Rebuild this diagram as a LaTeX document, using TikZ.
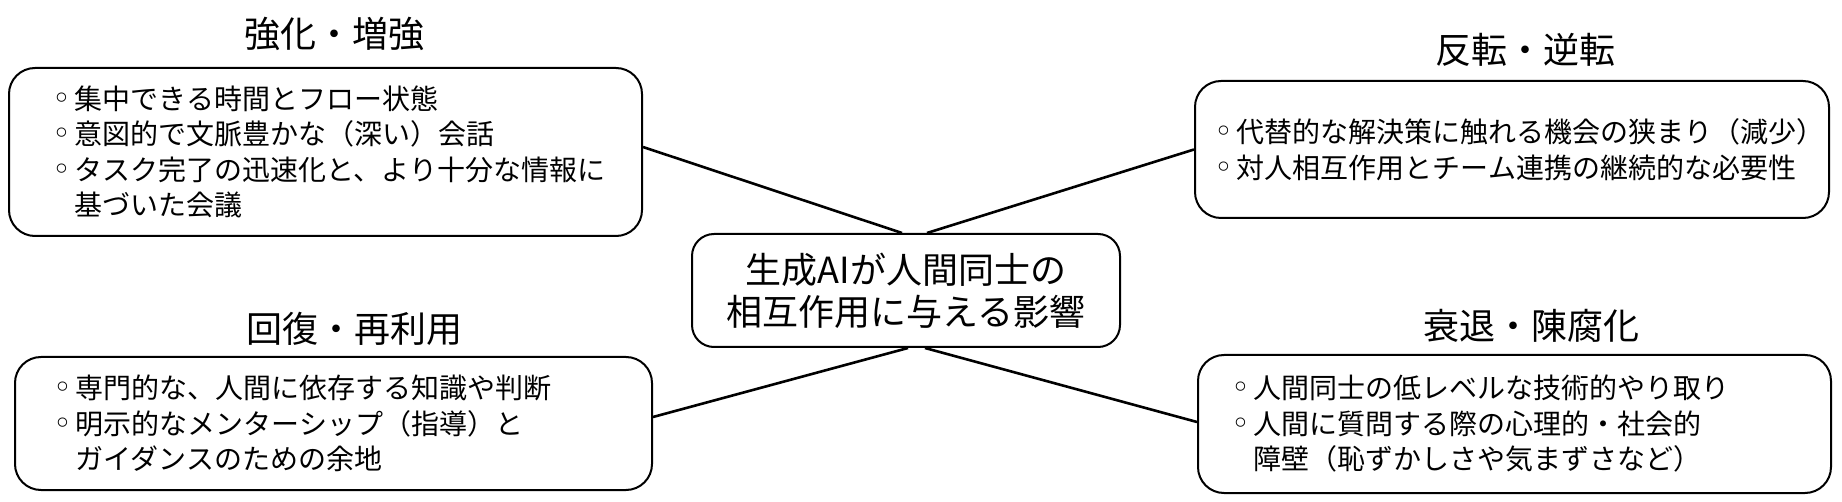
\documentclass[tikz,border=0pt]{standalone}
\usepackage{fontspec}
\setmainfont{Noto Sans CJK JP}
\newfontfamily\dvfont{DejaVu Sans}
\newcommand{\mybul}{{\dvfont\fontsize{32pt}{32pt}\selectfont ◦}\hspace{4pt}}
\newcommand{\myind}{\hphantom{\mybul}}
\hfuzz=200pt
\hbadness=10000
\begin{document}
\begin{tikzpicture}[x=1pt,y=-1pt,
  box/.style={draw=black, line width=2pt, rounded corners=26pt, inner ysep=0pt,
    align=left, font=\fontsize{28pt}{35.5pt}\selectfont},
  hub/.style={draw=black, line width=2pt, rounded corners=22pt, inner sep=0pt,
    align=center, font=\fontsize{36pt}{42pt}\selectfont,
    minimum width=428pt, minimum height=113pt},
  ttl/.style={font=\fontsize{36pt}{40pt}\selectfont, inner sep=0pt},
  link/.style={draw=black, line width=2.6pt}]
\useasboundingbox (0,0) rectangle (1842,502);

% titles
\node[ttl] (t1) at (334,34) {強化・増強};
\node[ttl] (t2) at (1525,50) {反転・逆転};
\node[ttl] (t3) at (354,329) {回復・再利用};
\node[ttl] (t4) at (1531,326) {衰退・陳腐化};

% boxes
\node[box, minimum width=633pt, minimum height=168pt, inner xsep=43pt, text width=547pt]
  (tl) at (325.5,152)
  {\mybul 集中できる時間とフロー状態\\
   \mybul 意図的で文脈豊かな（深い）会話\\
   \mybul タスク完了の迅速化と、より十分な情報に\\
   \myind 基づいた会議};

\node[box, minimum width=634pt, minimum height=137pt, inner xsep=19pt, text width=596pt]
  (tr) at (1512,149.5)
  {\mybul 代替的な解決策に触れる機会の狭まり（減少）\\
   \mybul 対人相互作用とチーム連携の継続的な必要性};

\node[box, minimum width=637pt, minimum height=133pt, inner xsep=38pt, text width=561pt]
  (bl) at (333.5,423.5)
  {\mybul 専門的な、人間に依存する知識や判断\\
   \mybul 明示的なメンターシップ（指導）と\\
   \myind ガイダンスのための余地};

\node[box, minimum width=633pt, minimum height=138pt, inner xsep=33pt, text width=567pt]
  (br) at (1514.5,424)
  {\mybul 人間同士の低レベルな技術的やり取り\\
   \mybul 人間に質問する際の心理的・社会的\\
   \myind 障壁（恥ずかしさや気まずさなど）};

\node[hub] (c) at (906,290.5) {生成AIが人間同士の\\相互作用に与える影響};

% connectors
\draw[link] ([yshift=5pt]tl.east) -- ([xshift=-4pt]c.north);
\draw[link] ([xshift=21pt]c.north) -- (tr.west);
\draw[link] ([xshift=2pt]c.south) -- ([yshift=6.5pt]bl.east);
\draw[link] ([xshift=19pt]c.south) -- ([yshift=2pt]br.west);
\end{tikzpicture}
\end{document}
